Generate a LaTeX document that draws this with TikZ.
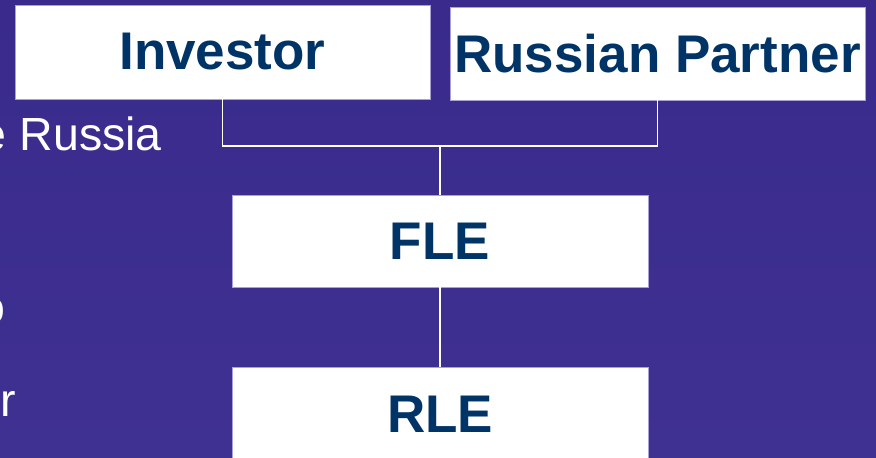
\documentclass[tikz,border=0pt]{standalone}
\usepackage{fontspec}
\setmainfont{Liberation Sans}
\definecolor{bgtop}{RGB}{57,42,140}
\definecolor{bgbot}{RGB}{63,49,146}
\definecolor{boxtext}{RGB}{0,51,102}
\definecolor{boxedge}{RGB}{170,160,215}
\tikzset{
  orgbox/.style={draw=boxedge, line width=0.8pt, fill=white, inner sep=0pt,
    font=\bfseries\fontsize{53}{60}\selectfont, text=boxtext},
  link/.style={draw=white, line width=1.6pt},
  sidetext/.style={text=white, inner sep=0pt, font=\fontsize{46.5}{54}\selectfont}
}
\begin{document}
\begin{tikzpicture}[x=1pt,y=1pt]
\useasboundingbox (0,0) rectangle (876,-458);
\clip (0,0) rectangle (876,-458);
\shade[top color=bgtop, bottom color=bgbot] (0,0) rectangle (876,-458);
% left slide text fragments
\node[sidetext, anchor=base east] (t1) at (162,-150) {e Russia};
\node[sidetext, anchor=base east] (t2) at (6,-323) {o};
\node[sidetext, anchor=base east] (t3) at (16,-416) {r};
% boxes
\node[orgbox, minimum width=415, minimum height=94] (inv) at (222.5,-52) {Investor};
\node[orgbox, minimum width=415, minimum height=93] (rp) at (657.5,-53.5) {Russian Partner};
\node[orgbox, minimum width=416, minimum height=92] (fle) at (440,-241) {FLE};
\node[orgbox, minimum width=416, minimum height=110] (rle) at (440,-422) {};
\node[text=boxtext, font=\bfseries\fontsize{53}{60}\selectfont, inner sep=0pt] (rlet) at (440,-414) {RLE};
% connectors
\coordinate (j) at (440,-146);
\draw[link] (inv.south) |- (j);
\draw[link] (rp.south) |- (j);
\draw[link] (j) -- (fle.north);
\draw[link] (fle.south) -- (rle.north);
\end{tikzpicture}
\end{document}
